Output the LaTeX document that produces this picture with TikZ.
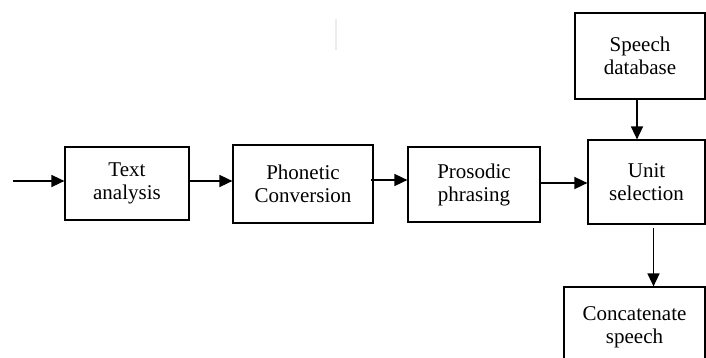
\documentclass[tikz,border=0pt]{standalone}
\usepackage{fontspec}
\setmainfont{Liberation Serif}
\usetikzlibrary{arrows.meta,calc}
\begin{document}
\begin{tikzpicture}[x=1pt,y=-1pt,
  blk/.style={draw=black,line width=1.2pt,rectangle,align=center,inner sep=0pt,
    font=\fontsize{21}{23}\selectfont},
  arr/.style={line width=1.6pt,-{Triangle[length=13pt,width=12pt]}}]
\useasboundingbox (0,0) rectangle (706,358);
\clip (0,0) rectangle (706,358);
\fill[white] (0,0) rectangle (706,358);
\draw[gray!15,line width=1.5pt] (336,19) coordinate (f1) -- (336,50) coordinate (f2);
\node[blk,minimum width=124,minimum height=73] (ta) at (127,183.5) {Text\\analysis};
\node[blk,minimum width=140,minimum height=78] (pc) at (303,184) {Phonetic\\Conversion};
\node[blk,minimum width=132,minimum height=75] (pp) at (474,184.5) {Prosodic\\phrasing};
\node[blk,minimum width=117,minimum height=84] (us) at (646.5,182) {Unit\\selection};
\node[blk,minimum width=130,minimum height=86] (sd) at (640,56) {Speech\\database};
\node[blk,minimum width=141,minimum height=80] (cs) at (634.5,327) {Concatenate\\speech};
\coordinate (in) at (13,181);
\draw[arr] (in) -- (in -| ta.west);
\draw[arr] ([yshift=2.5]ta.east) -- ([yshift=2.5]ta.east -| pc.west);
\draw[arr] ([xshift=-3,yshift=4]pc.east) -- ([yshift=4]pc.east -| pp.west);
\draw[arr] ([yshift=1.5]pp.east) -- ([yshift=1.5]pp.east -| us.west);
\draw[arr] ([xshift=-3]sd.south) -- ([xshift=-3]sd.south |- us.north);
\draw[arr] ([xshift=7,yshift=-3]us.south) -- ([xshift=7]us.south |- cs.north);
\end{tikzpicture}
\end{document}
